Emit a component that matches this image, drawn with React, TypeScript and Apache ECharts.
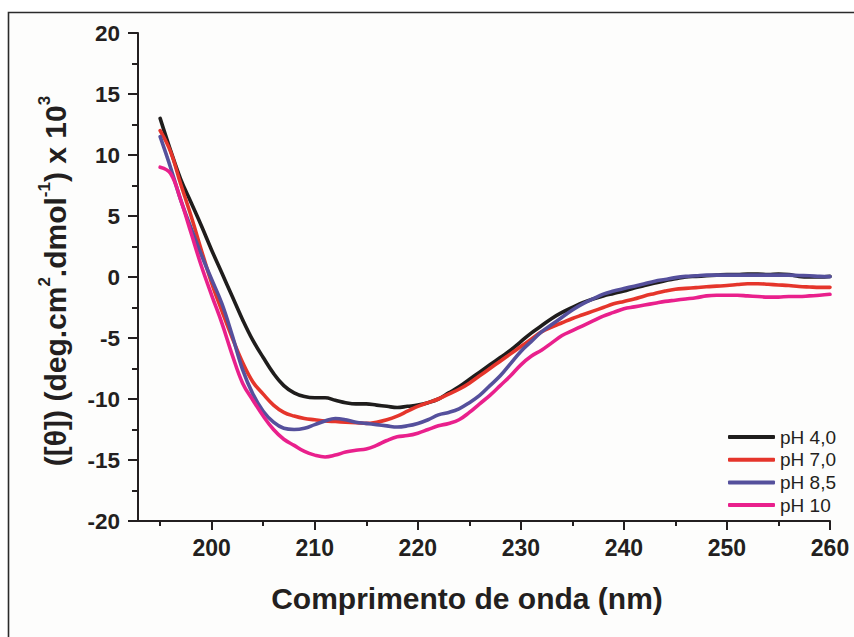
import React, { useEffect, useRef } from "react";
import * as echarts from "echarts";

const wavelength = [
  195, 196, 197, 198, 199, 200, 201, 202, 203, 204, 205, 206, 207, 208, 209, 210,
  211, 212, 213, 214, 215, 216, 217, 218, 219, 220, 221, 222, 223, 224, 225, 226,
  227, 228, 229, 230, 231, 232, 233, 234, 235, 236, 237, 238, 239, 240, 241, 242,
  243, 244, 245, 246, 247, 248, 249, 250, 251, 252, 253, 254, 255, 256, 257, 258,
  259, 260,
];

const ph40 = [
  13.0, 10.4, 8.0, 6.1, 4.2, 2.2, 0.3, -1.6, -3.5, -5.2, -6.6, -7.9, -8.9, -9.5, -9.8, -9.9,
  -9.9, -10.1, -10.3, -10.4, -10.4, -10.5, -10.6, -10.7, -10.6, -10.5, -10.3, -10.0, -9.5, -9.0, -8.4, -7.8,
  -7.2, -6.6, -6.0, -5.3, -4.6, -4.0, -3.4, -2.9, -2.5, -2.1, -1.8, -1.55, -1.35, -1.15, -0.9, -0.7,
  -0.5, -0.3, -0.15, 0.0, 0.05, 0.1, 0.15, 0.2, 0.2, 0.25, 0.25, 0.2, 0.25, 0.2, 0.05, 0.0,
  0.0, 0.05,
];

const ph70 = [
  12.0, 10.3, 7.6, 5.0, 2.2, -0.5, -2.8, -5.0, -7.0, -8.6, -9.6, -10.5, -11.1, -11.4, -11.6, -11.7,
  -11.8, -11.85, -11.9, -11.95, -12.0, -11.9, -11.7, -11.4, -11.0, -10.6, -10.3, -10.0, -9.6, -9.2, -8.7, -8.1,
  -7.5, -6.9, -6.3, -5.7, -5.1, -4.5, -4.1, -3.75, -3.4, -3.1, -2.8, -2.5, -2.2, -2.0, -1.8, -1.55,
  -1.35, -1.15, -1.0, -0.93, -0.87, -0.8, -0.75, -0.7, -0.62, -0.55, -0.55, -0.6, -0.65, -0.7, -0.78, -0.82,
  -0.85, -0.85,
];

const ph85 = [
  11.5, 9.0, 6.3, 4.0, 1.8, -0.2, -2.2, -4.8, -7.6, -9.6, -11.0, -11.9, -12.4, -12.5, -12.4, -12.1,
  -11.8, -11.6, -11.7, -11.9, -12.0, -12.1, -12.2, -12.3, -12.2, -12.0, -11.7, -11.3, -11.1, -10.8, -10.3, -9.7,
  -8.9, -8.1, -7.1, -6.1, -5.3, -4.5, -3.9, -3.3, -2.7, -2.2, -1.8, -1.4, -1.15, -0.95, -0.75, -0.55,
  -0.35, -0.2, -0.05, 0.05, 0.1, 0.15, 0.15, 0.15, 0.15, 0.15, 0.15, 0.15, 0.15, 0.15, 0.12, 0.1,
  0.05, 0.03,
];

const ph10 = [
  9.0, 8.5, 6.3, 3.6, 0.9, -1.5, -3.8, -6.4, -8.7, -10.1, -11.4, -12.5, -13.3, -13.8, -14.3, -14.6,
  -14.75, -14.6, -14.35, -14.2, -14.1, -13.8, -13.4, -13.1, -13.0, -12.8, -12.5, -12.2, -12.0, -11.7, -11.1, -10.4,
  -9.7, -8.9, -8.1, -7.2, -6.5, -6.0, -5.4, -4.8, -4.4, -4.0, -3.6, -3.2, -2.9, -2.6, -2.45, -2.3,
  -2.15, -2.0, -1.9, -1.8, -1.7, -1.55, -1.5, -1.5, -1.5, -1.55, -1.6, -1.65, -1.65, -1.6, -1.6, -1.55,
  -1.5, -1.42,
];

const seriesNames = ["pH 4,0", "pH 7,0", "pH 8,5", "pH 10"];
const seriesColors = ["#1f1d1c", "#e5352b", "#55509c", "#e9208c"];
const seriesValues = [ph40, ph70, ph85, ph10];

const xMajorTicks = [200, 210, 220, 230, 240, 250, 260];
const xMinorTicks = [195, 205, 215, 225, 235, 245, 255];

const xTitle = "Comprimento de onda (nm)";

export default function App() {
  const ref = useRef<HTMLDivElement>(null);

  useEffect(() => {
    if (!ref.current) return;
    const chart = echarts.init(ref.current, null, { renderer: "svg" });
    const axisColor = "#231f20";
    const font = "'Liberation Sans', Arial, Helvetica, sans-serif";

    chart.setOption({
      animation: false,
      backgroundColor: "#ffffff",
      textStyle: { fontFamily: font },
      grid: { left: 138, right: 24, top: 33, bottom: 116, containLabel: false, outerBoundsMode: "none" },
      legend: {
        orient: "vertical",
        left: 723,
        top: 421,
        itemWidth: 47,
        itemHeight: 4,
        itemGap: 0.7,
        icon: "roundRect",
        data: seriesNames,
        textStyle: { fontFamily: font, fontSize: 19, color: "#231f20", lineHeight: 22 },
      },
      xAxis: [
        {
          type: "value",
          min: 192.85,
          max: 260,
          splitLine: { show: false },
          axisLine: { show: true, onZero: false, lineStyle: { color: axisColor, width: 2 } },
          axisTick: { show: true, customValues: xMajorTicks, length: 9, lineStyle: { color: axisColor, width: 2 } },
          axisLabel: {
            customValues: xMajorTicks,
            margin: 15,
            fontSize: 23,
            fontWeight: "bold",
            color: axisColor,
            fontFamily: font,
          },
        },
        {
          type: "value",
          min: 192.85,
          max: 260,
          position: "bottom",
          splitLine: { show: false },
          axisLine: { show: false, onZero: false },
          axisTick: { show: true, customValues: xMinorTicks, length: 5, lineStyle: { color: axisColor, width: 2 } },
          axisLabel: { show: false },
        },
      ],
      yAxis: {
        type: "value",
        min: -20,
        max: 20,
        interval: 5,
        splitLine: { show: false },
        axisLine: { show: true, onZero: false, lineStyle: { color: axisColor, width: 2 } },
        axisTick: { show: true, length: 10, lineStyle: { color: axisColor, width: 2 } },
        minorTick: { show: true, splitNumber: 2, length: 6, lineStyle: { color: axisColor, width: 2 } },
        axisLabel: { margin: 18, fontSize: 22.5, fontWeight: "bold", color: axisColor, fontFamily: font },
      },
      series: seriesNames.map((name, i) => ({
        name,
        type: "line",
        xAxisIndex: 0,
        smooth: 0.4,
        showSymbol: false,
        symbol: "none",
        color: seriesColors[i],
        lineStyle: { width: 3.6, color: seriesColors[i], cap: "round", join: "round" },
        data: wavelength.map((w, j) => [w, seriesValues[i][j]]),
      })),
      graphic: [
        {
          type: "rect",
          z: -10,
          silent: true,
          shape: { x: 8.5, y: 12.5, width: 1000, height: 1000 },
          style: { fill: "#fdfdfc", stroke: "#2b2b2b", lineWidth: 1.6 },
        },
        {
          type: "text",
          x: 467,
          y: 598,
          style: {
            text: xTitle,
            fontSize: 30,
            fontWeight: "bold",
            fontFamily: font,
            fill: "#231f20",
            align: "center",
            verticalAlign: "middle",
          },
        },
        {
          type: "text",
          x: 53,
          y: 281,
          rotation: Math.PI / 2,
          style: {
            text: "{b|([θ]) (deg.cm}{s|2}{b|.dmol}{s|-1}{b|) x 10}{s|3}",
            align: "center",
            verticalAlign: "middle",
            fontFamily: font,
            rich: {
              b: { fontSize: 30, fontWeight: "bold", fontFamily: font, fill: "#231f20", color: "#231f20", verticalAlign: "bottom", lineHeight: 34 },
              s: { fontSize: 17, fontWeight: "bold", fontFamily: font, fill: "#231f20", color: "#231f20", verticalAlign: "top", lineHeight: 34 },
            },
          },
        },
      ],
    });

    return () => chart.dispose();
  }, []);

  return (
    <div
      ref={ref}
      style={{ position: "fixed", left: 0, top: 0, width: 854, height: 637 }}
    />
  );
}
